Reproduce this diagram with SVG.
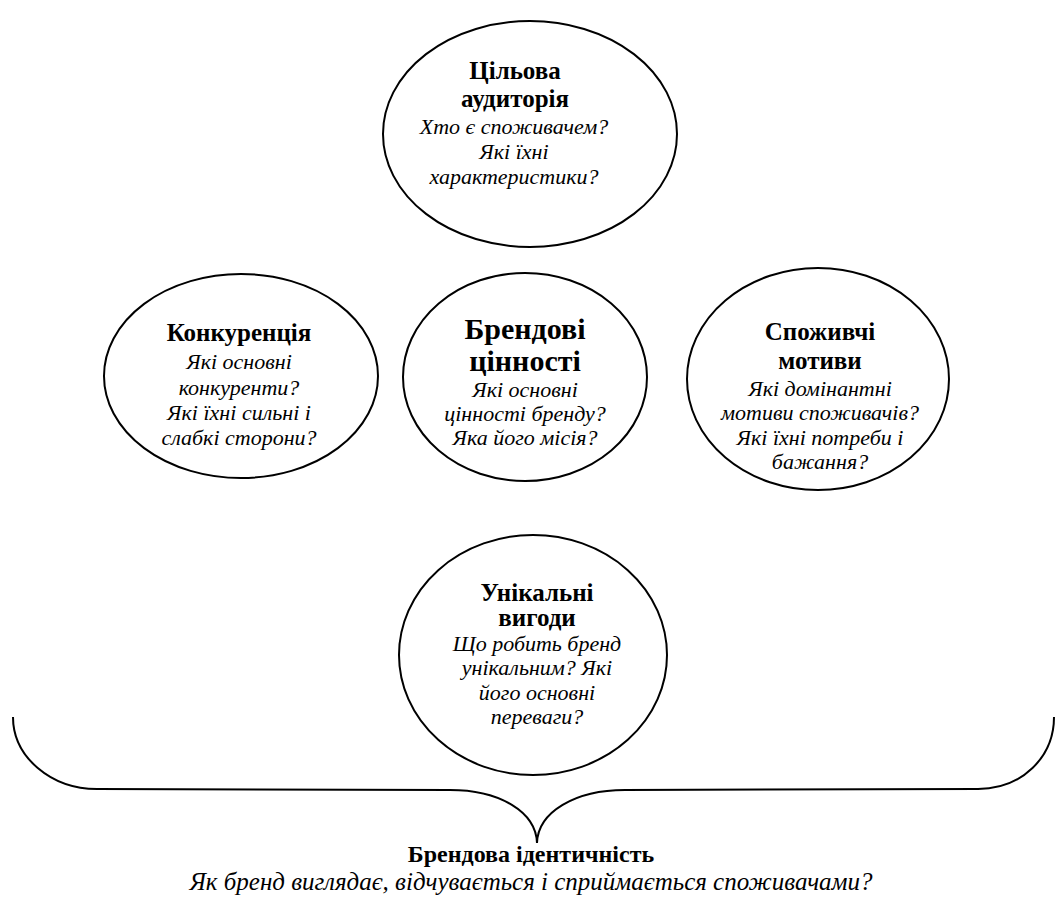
<svg xmlns="http://www.w3.org/2000/svg" width="1057" height="907" viewBox="0 0 1057 907">
<style>
.c{fill:#fff;stroke:#000;stroke-width:2}
.b{font-family:"Liberation Serif","Times New Roman",serif;font-weight:bold;font-size:25px;text-anchor:middle;fill:#000}
.bb{font-size:30px}
.i{font-family:"Liberation Serif","Times New Roman",serif;font-style:italic;font-size:22px;text-anchor:middle;fill:#000}
.br{fill:none;stroke:#000;stroke-width:2}
</style>
<rect width="1057" height="907" fill="#fff"/>
<g id="connectors">
<path class="br" d="M13,717 C13,757 51,789 97,789 L450,790 C500,790 536,812 537,843 C538,812 575,790 625,790 L978,789 C1022,789 1054,757 1054,717"/>
</g>
<g id="target">
<ellipse class="c" cx="530" cy="134" rx="147" ry="113"/>
<text class="b" x="515" y="79">Цільова</text>
<text class="b" x="515" y="107">аудиторія</text>
<text class="i" x="514" y="134">Хто є споживачем?</text>
<text class="i" x="514" y="159">Які їхні</text>
<text class="i" x="514" y="184">характеристики?</text>
</g>
<g id="competition">
<ellipse class="c" cx="241" cy="376" rx="137" ry="102"/>
<text class="b" x="239" y="341">Конкуренція</text>
<text class="i" x="239" y="369">Які основні</text>
<text class="i" x="239" y="395">конкуренти?</text>
<text class="i" x="239" y="420">Які їхні сильні і</text>
<text class="i" x="239" y="445">слабкі сторони?</text>
</g>
<g id="values">
<ellipse class="c" cx="525" cy="377" rx="122" ry="104"/>
<text class="b bb" x="525" y="339">Брендові</text>
<text class="b bb" x="525" y="371">цінності</text>
<text class="i" x="525" y="397">Які основні</text>
<text class="i" x="525" y="421">цінності бренду?</text>
<text class="i" x="525" y="445">Яка його місія?</text>
</g>
<g id="motives">
<ellipse class="c" cx="818" cy="379" rx="131" ry="111"/>
<text class="b" x="820" y="340">Споживчі</text>
<text class="b" x="820" y="369">мотиви</text>
<text class="i" x="820" y="396">Які домінантні</text>
<text class="i" x="820" y="420">мотиви споживачів?</text>
<text class="i" x="820" y="445">Які їхні потреби і</text>
<text class="i" x="820" y="469">бажання?</text>
</g>
<g id="benefits">
<ellipse class="c" cx="533" cy="655" rx="134" ry="120"/>
<text class="b" x="537" y="601">Унікальні</text>
<text class="b" x="537" y="626">вигоди</text>
<text class="i" x="537" y="651">Що робить бренд</text>
<text class="i" x="537" y="675">унікальним? Які</text>
<text class="i" x="537" y="700">його основні</text>
<text class="i" x="537" y="724">переваги?</text>
</g>
<g id="identity">
<text class="b" x="531" y="862" style="font-size:24px">Брендова ідентичність</text>
<text class="i" x="531" y="890" style="font-size:25px">Як бренд виглядає, відчувається і сприймається споживачами?</text>
</g>
</svg>
